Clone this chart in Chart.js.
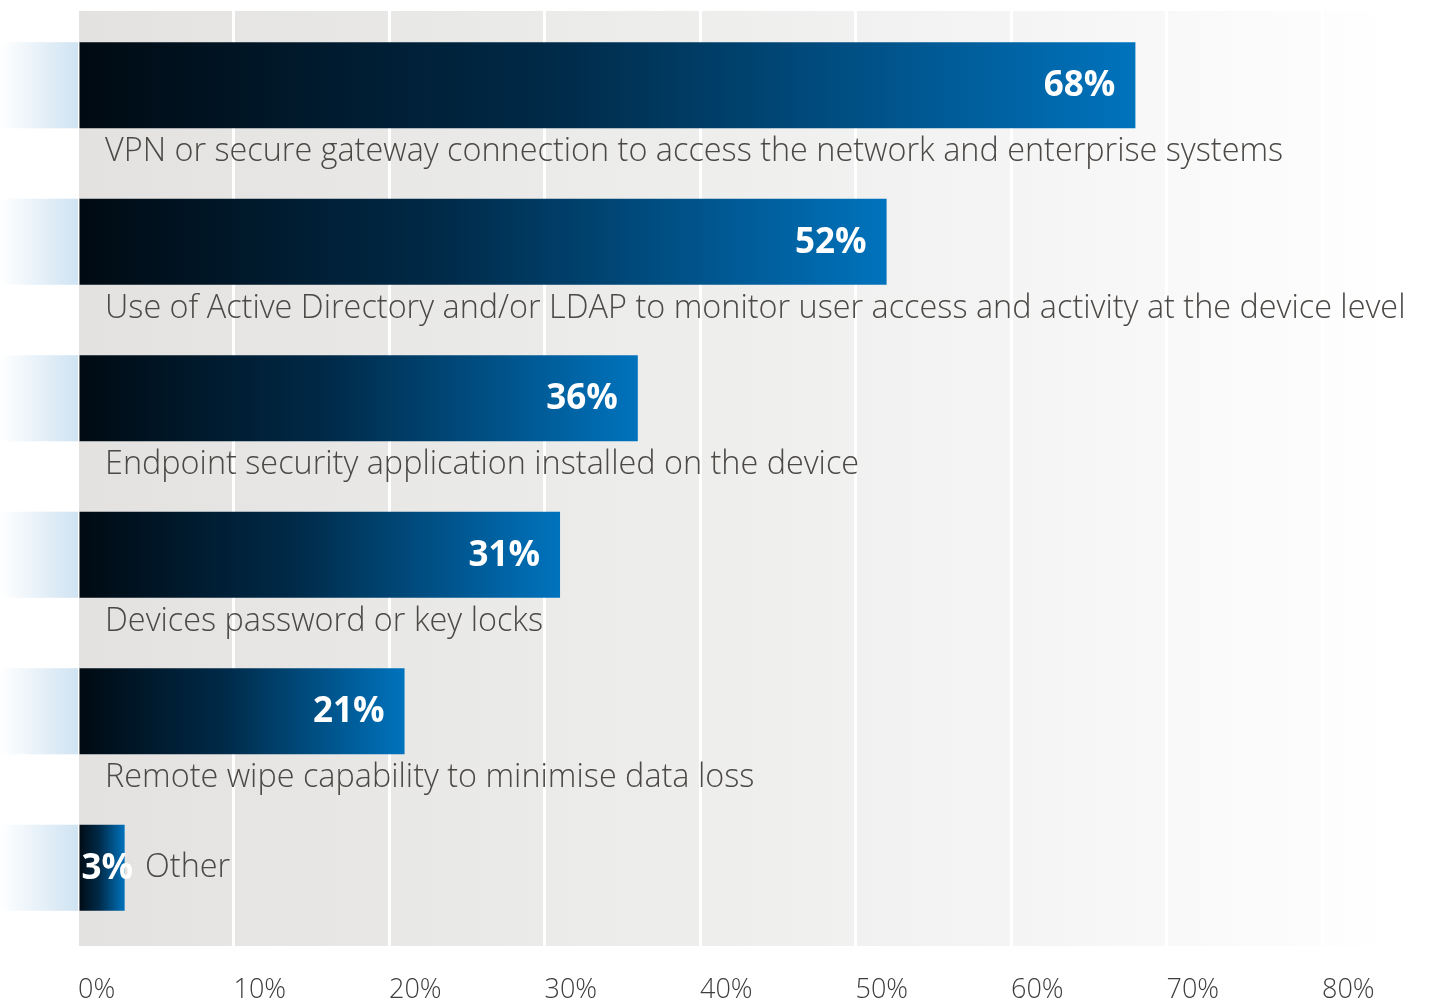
<!DOCTYPE html>
<html>
<head>
<meta charset="utf-8">
<script src="https://cdn.jsdelivr.net/npm/chart.js@4.4.1/dist/chart.umd.min.js"></script>
<style>
  html, body { margin: 0; padding: 0; background: #fff; }
  #wrap { width: 1429px; height: 1002px; position: relative; }
</style>
</head>
<body>
<div id="wrap"><canvas id="chart_bars"></canvas></div>
<script>
const categories = [
    'VPN or secure gateway connection to access the network and enterprise systems',
    'Use of Active Directory and/or LDAP to monitor user access and activity at the device level',
    'Endpoint security application installed on the device',
    'Devices password or key locks',
    'Remote wipe capability to minimise data loss',
    'Other'
];
const values = [68, 52, 36, 31, 21, 3];
const tickValues = [0, 10, 20, 30, 40, 50, 60, 70, 80];

const labelFont = '300 32.4px "Open Sans", "Lato", sans-serif';
const valueFont = '700 35px "Open Sans", "DejaVu Sans", sans-serif';

// bar fill: dark navy on the left to blue at the end of each bar
const barFill = (ctx) => {
    const chart = ctx.chart;
    if (!chart.chartArea || ctx.dataIndex === undefined) return '#003458';
    const x = chart.scales.x;
    const x0 = x.getPixelForValue(0);
    const x1 = x.getPixelForValue(values[ctx.dataIndex]);
    const g = chart.ctx.createLinearGradient(x0, 0, x1, 0);
    g.addColorStop(0, '#000a12');
    g.addColorStop(0.45, '#002a48');
    g.addColorStop(1, '#0073bd');
    return g;
}

const decor = {
    id: 'decor',
    beforeDraw(chart) {
        const c = chart.ctx; const a = chart.chartArea;
        c.save();
        // grey panel fading out to the right
        const right = chart.width - 38;
        const g = c.createLinearGradient(a.left, 0, right, 0);
        g.addColorStop(0, '#e3e2e1');
        g.addColorStop(0.45, '#ededec');
        g.addColorStop(0.7, '#f4f4f4');
        g.addColorStop(0.88, '#fafafa');
        g.addColorStop(1, '#ffffff');
        c.fillStyle = g;
        c.fillRect(a.left + 1, a.top + 4, right - a.left - 1, a.bottom - a.top - 4);

        // light blue strips to the left of each bar
        const meta = chart.getDatasetMeta(0);
        for (let el of meta.data) {
            const top = el.y - el.height / 2;
            const sg = c.createLinearGradient(0, 0, a.left, 0);
            sg.addColorStop(0, 'rgba(207,227,242,0)');
            sg.addColorStop(1, 'rgba(207,227,242,1)');
            c.fillStyle = sg;
            c.fillRect(0, top, a.left, el.height);
        }
        c.restore();
    },
    afterDatasetsDraw(chart) {
        const c = chart.ctx; const a = chart.chartArea;
        const meta = chart.getDatasetMeta(0);
        c.save();
        c.textBaseline = 'middle';
        for (let i = 0; i < meta.data.length; i++) {
            const el = meta.data[i];
            const barW = el.x - el.base;
            const txt = values[i] + '%';

            // value inside bar
            c.font = valueFont;
            c.fillStyle = '#ffffff';
            const w = c.measureText(txt).width;
            let textEnd = el.x;
            if (w + 30 > barW) {
                c.textAlign = 'left';
                c.fillText(txt, el.base + 2, el.y + 1);
                textEnd = Math.max(el.x, el.base + 2 + w);
            } else {
                c.textAlign = 'right';
                c.fillText(txt, el.x - 20, el.y + 1);
            }

            // category text, under the bar or beside a short one
            c.font = labelFont;
            c.fillStyle = '#4b4845';
            c.textAlign = 'left';
            if (barW < 80) {
                c.fillText(categories[i], textEnd + 12, el.y);
            } else {
                c.fillText(categories[i], a.left + 27, el.y + 67);
            }
        }
        c.restore();
    }
};

const config = {
    type: 'bar',
    data: {
        labels: categories,
        datasets: [{
            data: values,
            backgroundColor: barFill,
            borderWidth: 0,
            categoryPercentage: 1,
            barPercentage: 0.55
        }]
    },
    options: {
        indexAxis: 'y',
        responsive: true,
        maintainAspectRatio: false,
        animation: false,
        layout: { padding: { left: 78, right: 107, top: 7, bottom: 0 } },
        plugins: { legend: { display: false }, tooltip: { enabled: false } },
        scales: {
            x: {
                min: 0,
                max: 80,
                afterBuildTicks: (axis) => { axis.ticks = tickValues.map(v => ({ value: v })); },
                afterFit: (axis) => { axis.height = 56; },
                border: { display: false },
                grid: {
                    color: (ctx) => ctx.index === 0 ? 'rgba(0,0,0,0)' : '#ffffff',
                    lineWidth: 3,
                    drawTicks: false
                },
                ticks: {
                    align: 'start',
                    padding: 28,
                    color: '#3d3d3d',
                    font: { family: '"Open Sans", "Lato", sans-serif', size: 27, weight: '300' },
                    callback: (v) => v + '%'
                }
            },
            y: { display: false }
        }
    },
    plugins: [decor]
};

const myChart = new Chart(document.getElementById('chart_bars'), config);
</script>
</body>
</html>
